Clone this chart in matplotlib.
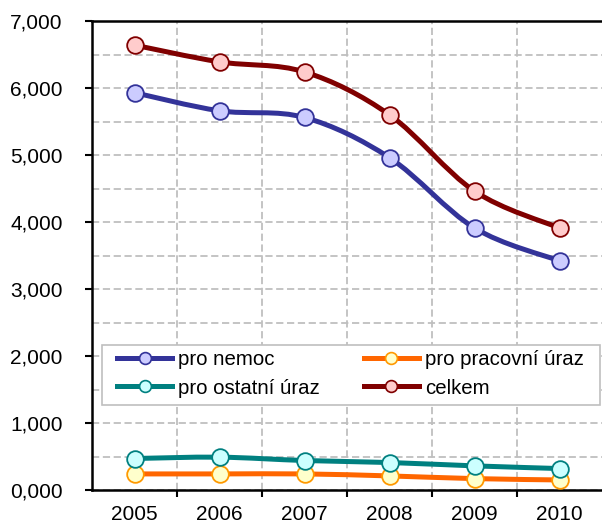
import numpy as np
import matplotlib
matplotlib.use('Agg')
import matplotlib.pyplot as plt
from matplotlib.path import Path
from matplotlib.patches import PathPatch, Rectangle
from matplotlib.lines import Line2D
from matplotlib.ticker import FuncFormatter, MultipleLocator

plt.rcParams['font.family'] = ['Liberation Sans', 'DejaVu Sans']

years = ['2005', '2006', '2007', '2008', '2009', '2010']
pro_nemoc = [5.93, 5.66, 5.56, 4.96, 3.91, 3.42]
pro_pracovni_uraz = [0.24, 0.24, 0.24, 0.21, 0.17, 0.15]
pro_ostatni_uraz = [0.47, 0.49, 0.44, 0.41, 0.36, 0.32]
celkem = [6.64, 6.39, 6.24, 5.60, 4.46, 3.91]


def smooth_path(xs, ys):
    # Bezier smoothing through the points, like Excel's "smoothed line"
    p = np.column_stack([xs, ys]).astype(float)
    n = len(p)
    verts = [p[0]]
    codes = [Path.MOVETO]
    for i in range(n - 1):
        p0 = p[i - 1] if i > 0 else p[i]
        p3 = p[i + 2] if i + 2 < n else p[i + 1]
        c1 = p[i] + (p[i + 1] - p0) / 6
        c2 = p[i + 1] - (p3 - p[i]) / 6
        verts += [c1, c2, p[i + 1]]
        codes += [Path.CURVE4] * 3
    return Path(verts, codes)


fig = plt.figure(figsize=(6.02, 5.26), dpi=100)
ax = fig.add_axes([92 / 602, 36 / 526, 510 / 602, 469 / 526])

series = [
    ('pro nemoc', pro_nemoc, '#333399', '#CCCCFF', '#333399'),
    ('pro pracovní úraz', pro_pracovni_uraz, '#FF6600', '#FFFFCC', '#FF9900'),
    ('pro ostatní úraz', pro_ostatni_uraz, '#008080', '#CCFFFF', '#008080'),
    ('celkem', celkem, '#800000', '#FFCCCC', '#800000'),
]

x = np.arange(len(years))
handles = {}
for name, vals, lc, fc, ec in series:
    ax.add_patch(PathPatch(smooth_path(x, vals), fill=False, edgecolor=lc,
                           lw=3.6, capstyle='round', joinstyle='round', zorder=3))
    ax.plot(x, vals, ls='none', marker='o', ms=12, mfc=fc, mec=ec, mew=1.3, zorder=4)
    handles[name] = Line2D([], [], color=lc, lw=3.6, marker='o', ms=8.5,
                           mfc=fc, mec=ec, mew=1.2)

ax.set_xlim(-0.5, len(years) - 0.5)
ax.set_ylim(0, 7)
ax.set_xticks(x)
ax.set_xticklabels(years)
ax.set_xticks(x[:-1] + 0.5, minor=True)
ax.yaxis.set_major_locator(MultipleLocator(1))
ax.yaxis.set_minor_locator(MultipleLocator(0.5))
ax.yaxis.set_major_formatter(FuncFormatter(lambda v, p: f'{v:.3f}'.replace('.', ',')))

ax.tick_params(axis='x', which='major', length=0, pad=11, labelsize=15)
ax.tick_params(axis='x', which='minor', length=5, width=1.5, direction='out')
ax.tick_params(axis='y', which='major', length=5, width=1.5, pad=16, labelsize=15)
ax.tick_params(axis='y', which='minor', length=0)

ax.grid(True, which='minor', axis='x', color='#BFBFBF', ls=(0, (4, 2)), lw=1.3)
ax.grid(True, which='both', axis='y', color='#BFBFBF', ls=(0, (4, 2)), lw=1.3)
ax.set_axisbelow(True)

for s in ['left', 'bottom', 'top']:
    ax.spines[s].set_linewidth(1.8)
    ax.spines[s].set_color('black')
ax.spines['right'].set_visible(False)

# legend frame drawn separately so the inner padding can match
ax.add_patch(Rectangle((10 / 510, 85 / 469), 498 / 510, 60 / 469, transform=ax.transAxes,
                       facecolor='white', edgecolor='#BFBFBF', lw=1.2, zorder=5))
names = ['pro nemoc', 'pro ostatní úraz', 'pro pracovní úraz', 'celkem']
leg = ax.legend([handles[n] for n in names], names, ncol=2,
                loc='upper left', bbox_to_anchor=(25 / 510, 140 / 469),
                fontsize=14.7, handlelength=2.7, handletextpad=0.3,
                columnspacing=2.15, labelspacing=0.47, borderpad=0,
                borderaxespad=0, frameon=False)
leg.set_zorder(6)

fig.savefig('out.png', dpi=100)
